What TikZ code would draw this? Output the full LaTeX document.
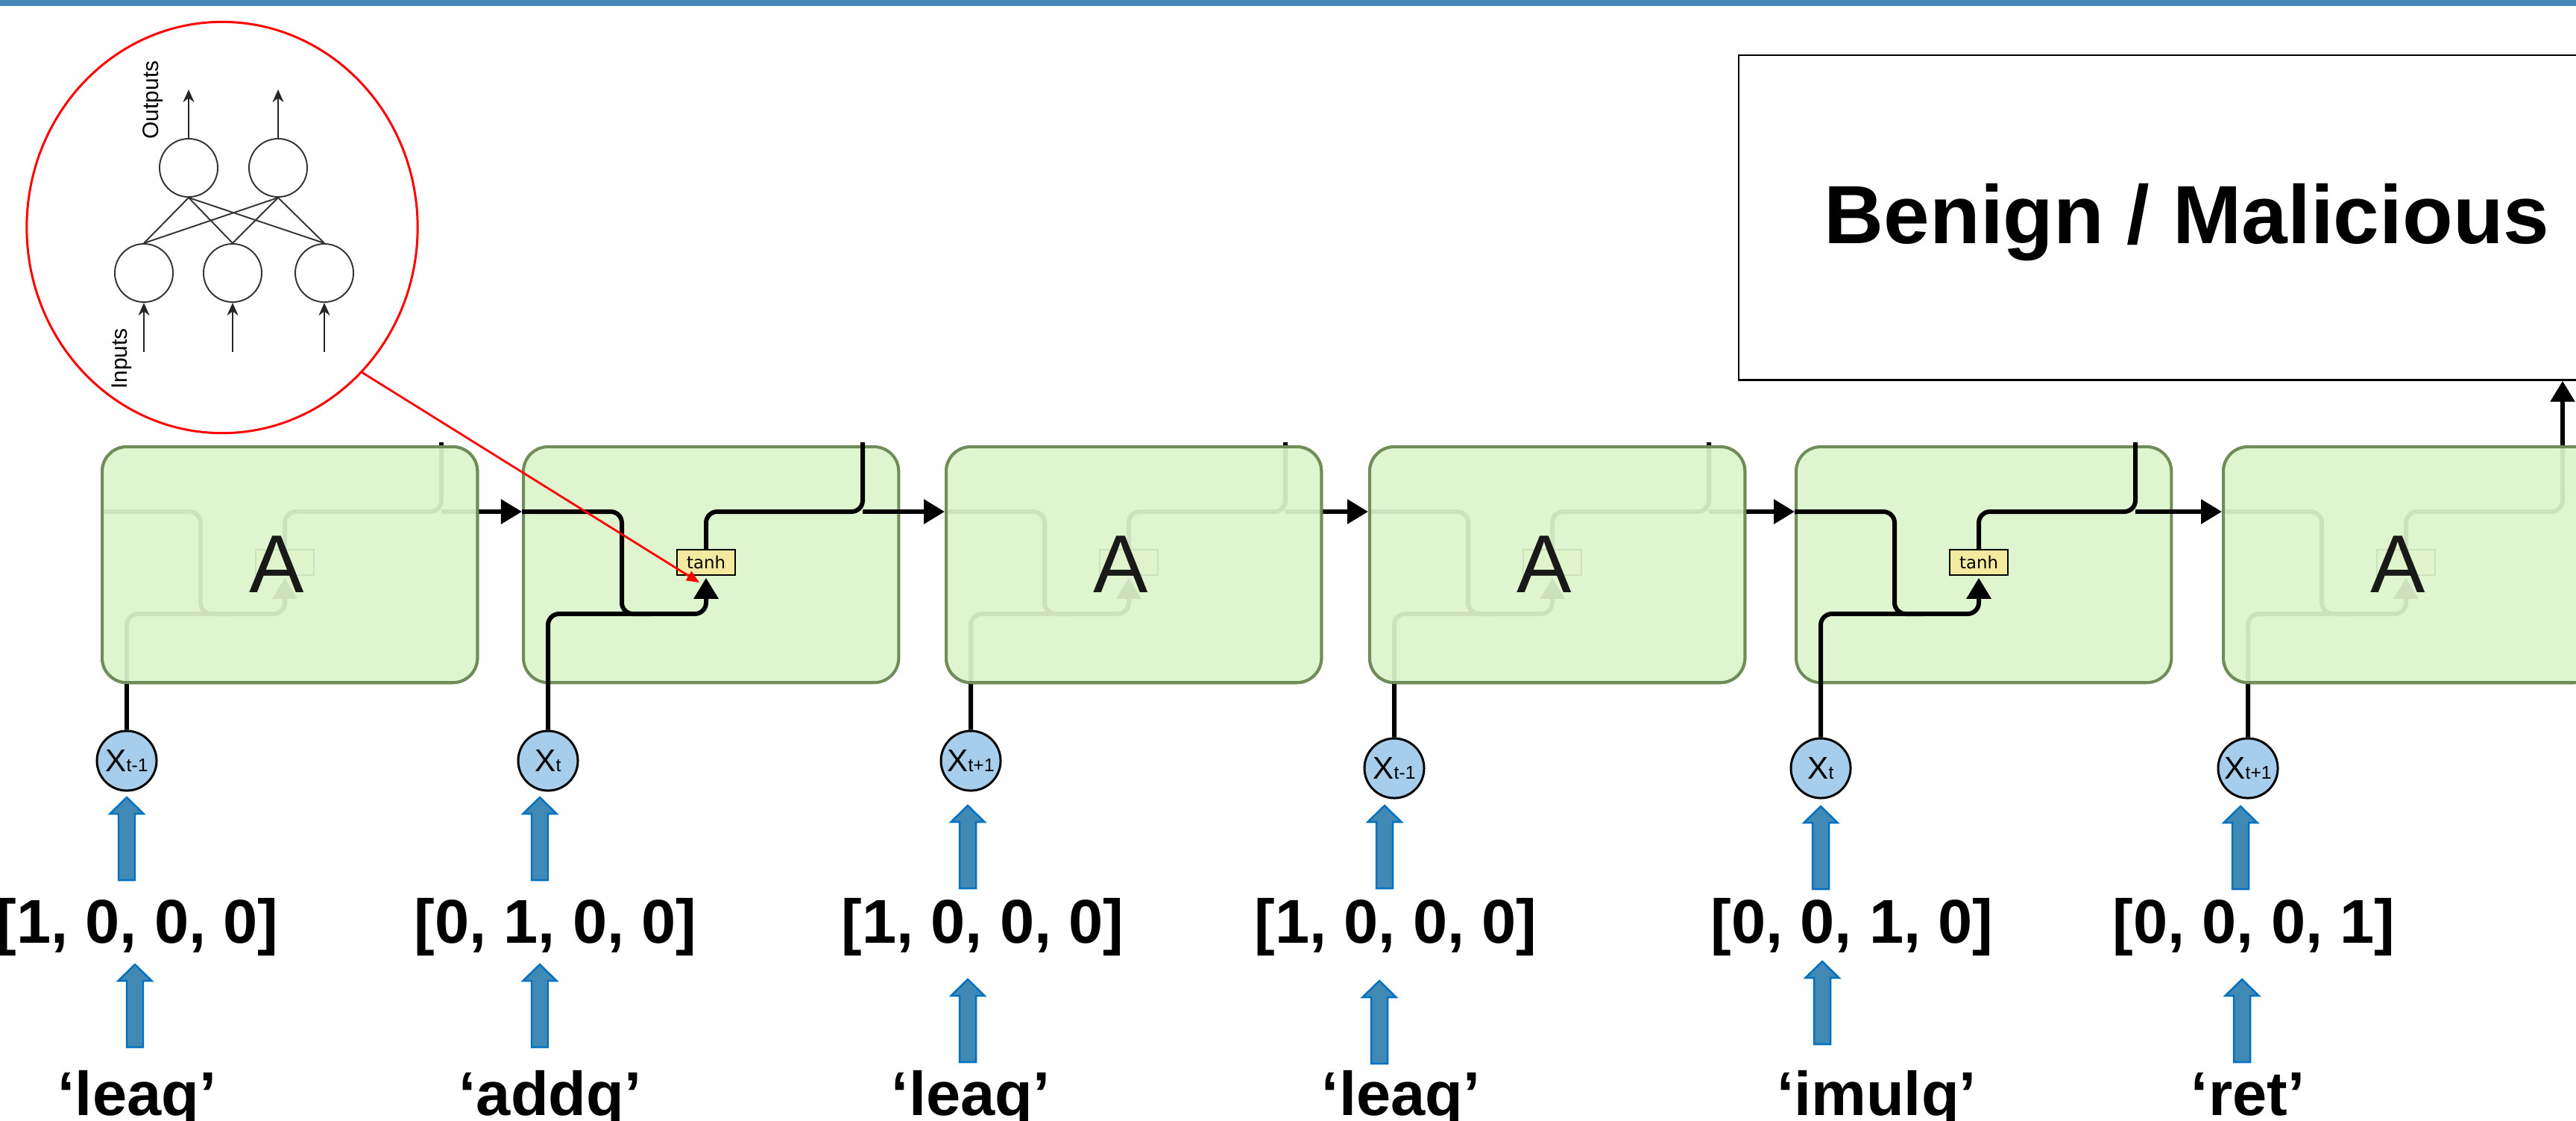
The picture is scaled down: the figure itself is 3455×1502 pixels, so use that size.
\documentclass[tikz,border=0pt]{standalone}
\usepackage{fontspec}
\setmainfont{Liberation Sans}
\newfontfamily\dejavu{DejaVu Sans}
\usetikzlibrary{arrows.meta,shapes.geometric}

\definecolor{cellfill}{RGB}{223,245,208}
\definecolor{cellline}{RGB}{112,140,88}
\definecolor{tanhfill}{RGB}{243,234,160}
\definecolor{xfill}{RGB}{166,206,236}
\definecolor{feedfill}{RGB}{65,137,181}
\definecolor{feedline}{RGB}{0,112,192}
\definecolor{barblue}{RGB}{70,137,185}

\newcommand{\xsub}[1]{{\fontsize{12}{12}\selectfont X}{\fontsize{7}{7}\selectfont #1}}
\newcommand{\feed}[2]{\filldraw[feed] (#1,#2) -- ++(22.5,22) -- ++(-11.5,0) -- ++(0,89) -- ++(-22,0) -- ++(0,-89) -- ++(-11.5,0) -- cycle;}

\tikzset{
  cellbox/.style={draw=cellline, fill=cellfill, line width=1.15pt, rounded corners=0.33cm,
    minimum width=5.03cm, minimum height=3.16cm, inner sep=0pt, anchor=north west},
  wire/.style={line width=1.7pt, rounded corners=0.15cm},
  flow/.style={line width=1.7pt, -{Triangle[length=0.28cm,width=0.32cm]}},
  tanhbox/.style={draw, fill=tanhfill, line width=0.45pt, minimum width=0.78cm,
    minimum height=0.34cm, inner sep=0pt, font=\dejavu\fontsize{6.5}{7}\selectfont},
  xin/.style={circle, draw, fill=xfill, line width=0.85pt, minimum size=0.8cm, inner sep=0pt},
  vec/.style={anchor=base, font=\bfseries\fontsize{23.6}{28}\selectfont},
  feed/.style={fill=feedfill, draw=feedline, line width=0.7pt},
  nnunit/.style={circle, draw=black!80, line width=0.55pt, minimum size=0.78cm, inner sep=0pt},
  nnedge/.style={draw=black!80, line width=0.55pt},
  nnarrow/.style={draw=black!85, line width=0.7pt, -{Stealth[length=0.17cm,width=0.15cm]}},
}

\begin{document}
\begin{tikzpicture}[x=0.01cm, y=-0.01cm]

  \path[use as bounding box, clip] (0,0) rectangle (3455,1502);
  \fill[barblue] (0,0) rectangle (3455,8);

  %Input symbols
  \node[xin] (x1) at (170,1020)  {\xsub{t-1}};
  \node[xin] (x2) at (735,1020)  {\xsub{t}};
  \node[xin] (x3) at (1302,1020) {\xsub{t+1}};
  \node[xin] (x4) at (1870,1030) {\xsub{t-1}};
  \node[xin] (x5) at (2442,1030) {\xsub{t}};
  \node[xin] (x6) at (3015,1030) {\xsub{t+1}};

  %Unrolled cells
  \foreach \i/\L/\t in {1/135/{}, 2/700/tanh, 3/1267/{}, 4/1835/{}, 5/2407/tanh, 6/2980/{}}{
    \node[cellbox] (box\i) at (\L,597) {};
    \coordinate (in\i) at (\L,686);
    \coordinate (low\i) at (\L+134,823);
    \coordinate (split\i) at (\L+457,686);
    \coordinate (stub\i) at (\L+457,593);
    \node[tanhbox] (tanh\i) at (\L+247,754) {\t};
    \draw[wire] (in\i) -| (low\i) -- ++(40,0);
    \draw[wire, flow, shorten >=0.03cm] (x\i.north) |- (low\i) -| (tanh\i.south);
    \draw[wire] (tanh\i.north) |- (split\i) -- (stub\i);
  }
  \foreach \i/\j in {1/2, 2/3, 3/4, 4/5, 5/6}
    \draw[flow] (split\i) -- (box\j.west |- split\i);

  %Cells shown as A
  \foreach \i/\L in {1/135, 3/1267, 4/1835, 6/2980}{
    \node[cellbox, fill opacity=0.92] at (\L,597) {};
    \node[font=\fontsize{31.3}{32}\selectfont, text=black!90, inner sep=0pt] (a\i) at (\L+236,757) {A};
  }

  %Classifier output
  \node[draw, line width=0.7pt, anchor=north west, minimum width=12.04cm,
    minimum height=4.35cm, inner sep=0pt] (result) at (2331,73) {};
  \node[anchor=base, font=\bfseries\fontsize{31.5}{36}\selectfont] (verdict) at (2933,326) {Benign / Malicious};
  \draw[flow] (stub6) -- (stub6 |- result.south);

  %One-hot vectors and instructions
  \node[vec] (v1) at (184,1264)  {[1, 0, 0, 0]};
  \node[vec] (v2) at (745,1264)  {[0, 1, 0, 0]};
  \node[vec] (v3) at (1318,1264) {[1, 0, 0, 0]};
  \node[vec] (v4) at (1872,1264) {[1, 0, 0, 0]};
  \node[vec] (v5) at (2484,1264) {[0, 0, 1, 0]};
  \node[vec] (v6) at (3023,1264) {[0, 0, 0, 1]};

  \node[vec] (op1) at (184,1495)  {‘leaq’};
  \node[vec] (op2) at (738,1495)  {‘addq’};
  \node[vec] (op3) at (1302,1495) {‘leaq’};
  \node[vec] (op4) at (1879,1495) {‘leaq’};
  \node[vec] (op5) at (2517,1495) {‘imulq’};
  \node[vec] (op6) at (3015,1495) {‘ret’};

  \feed{170}{1069} \feed{724}{1069} \feed{1298}{1080}
  \feed{1857}{1080} \feed{2442}{1081} \feed{3005}{1081}
  \feed{181}{1293} \feed{724}{1293} \feed{1298}{1313}
  \feed{1850}{1315} \feed{2444}{1289} \feed{3007}{1313}

  %Zoomed neuron view
  \node[ellipse, draw=red, line width=0.85pt, minimum width=5.24cm,
    minimum height=5.51cm, inner sep=0pt] (lens) at (298,305) {};
  \node[nnunit] (o1) at (253,225) {};
  \node[nnunit] (o2) at (373,225) {};
  \node[nnunit] (h1) at (193,366) {};
  \node[nnunit] (h2) at (312,366) {};
  \node[nnunit] (h3) at (435,366) {};
  \foreach \o in {o1,o2}
    \foreach \h in {h1,h2,h3}
      \draw[nnedge] (\o.south) -- (\h.north);
  \draw[nnarrow] (o1.north) -- ++(0,-65);
  \draw[nnarrow] (o2.north) -- ++(0,-65);
  \foreach \h in {h1,h2,h3}
    \draw[nnarrow] (\h.south) ++(0,66) -- (\h.south);
  \node[rotate=90, font=\fontsize{8.5}{9}\selectfont] (outs) at (205,134) {Outputs};
  \node[rotate=90, font=\fontsize{8.5}{9}\selectfont] (ins) at (163,481) {Inputs};

  \coordinate (lensTarget) at (938,781);
  \draw[red, line width=0.8pt, -{Triangle[length=0.17cm,width=0.14cm]}] (lens.-46.5) -- (lensTarget);

\end{tikzpicture}
\end{document}
